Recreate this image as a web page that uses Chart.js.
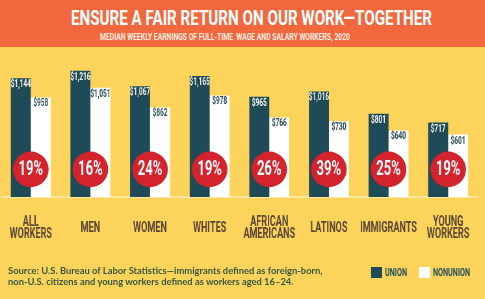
<!DOCTYPE html>
<html>
<head>
<meta charset="utf-8">
<script src="https://cdn.jsdelivr.net/npm/chart.js@4.4.1/dist/chart.umd.min.js"></script>
<style>
  html, body { margin: 0; padding: 0; }
  body { width: 485px; height: 299px; background: #FCD45C; position: relative; overflow: hidden; }
  .header { position: absolute; left: 0; top: 0; width: 485px; height: 47px; background: #F1683E; }
  .fit { position: absolute; white-space: nowrap; transform-origin: 0 0; font-family: Roboto, sans-serif; font-weight: bold; }
  #chart-wrap { position: absolute; left: 0; top: 50px; transform-origin: 0 0; }
  .source { position: absolute; left: 8px; top: 265px; color: #35573F; line-height: 11px;
           font: bold 9.4px Lato, "Noto Sans", sans-serif; }
  .box { position: absolute; width: 11px; height: 11px; top: 267px; }
</style>
</head>
<body>
<div class="header"></div>
<div class="fit" id="titulo" style="color:#fff;font-size:19.7px;line-height:20px">ENSURE A FAIR RETURN ON OUR WORK—TOGETHER</div>
<div class="fit" id="subtitulo" style="color:#FBEDE0;font-size:9px;line-height:9px">MEDIAN WEEKLY EARNINGS OF FULL-TIME&nbsp; WAGE AND SALARY WORKERS, 2020</div>
<div id="chart-wrap"><canvas id="grafico-salarios"></canvas></div>
<div class="source">Source: U.S. Bureau of Labor Statistics—immigrants defined as foreign-born,<br>non-U.S. citizens and young workers defined as workers aged 16–24.</div>
<div class="box" id="box-union" style="left:371px"></div>
<div class="box" id="box-nonunion" style="left:419px"></div>
<div class="fit" id="leg-union" style="color:#1F4B57;font-size:10px;line-height:10px"></div>
<div class="fit" id="leg-nonunion" style="color:#1F4B57;font-size:10px;line-height:10px"></div>
<script>
// Dados
const categorias = [['ALL', 'WORKERS'], 'MEN', 'WOMEN', 'WHITES', ['AFRICAN', 'AMERICANS'], 'LATINOS', 'IMMIGRANTS', ['YOUNG', 'WORKERS']];
const sindicalizados = [1144, 1216, 1067, 1165, 965, 1016, 801, 717];
const naoSindicalizados = [958, 1051, 862, 978, 766, 730, 640, 601];
const vantagem = [19, 16, 24, 19, 26, 39, 25, 19];

const corUnion = '#1E4B57';
const corNonunion = '#FFFFFF';
const fonte = 'Roboto, sans-serif';

// Fator de condensação horizontal (sem fonte condensada instalada)
const ESCALA = 0.65;
const LARGURA = 485 / ESCALA;
const ALTURA = 223;
const canvas = document.getElementById('grafico-salarios');
canvas.width = LARGURA;
canvas.height = ALTURA;
document.getElementById('chart-wrap').style.transform = 'scaleX(' + ESCALA + ')';

// Ajusta textos HTML para a largura desejada
function encaixar(id, x, y, largura) {
    const el = document.getElementById(id);
    const w = el.getBoundingClientRect().width;
    el.style.left = x + 'px';
    el.style.top = y + 'px';
    el.style.transform = 'scaleX(' + (largura / w) + ')';
}

// Rótulos de valor no topo das barras
const rotulosValor = {
    id: 'rotulosValor',
    afterDatasetsDraw(chart) {
        const ctx = chart.ctx;
        ctx.save();
        ctx.font = 'bold 10px ' + fonte;
        ctx.textAlign = 'center';
        ctx.textBaseline = 'middle';
        chart.data.datasets.forEach((ds, i) => {
            const meta = chart.getDatasetMeta(i);
            meta.data.forEach((bar, j) => {
                ctx.fillStyle = i === 0 ? '#F4F1EA' : '#2E4E5A';
                const v = '$' + ds.data[j].toLocaleString('en-US');
                ctx.fillText(v, bar.x, bar.y + 6.5);
            });
        });
        ctx.restore();
    }
};

// Círculos vermelhos com a porcentagem
const circulos = {
    id: 'circulos',
    afterDatasetsDraw(chart) {
        const ctx = chart.ctx;
        const xScale = chart.scales.x;
        const base = chart.chartArea.bottom;
        ctx.save();
        vantagem.forEach((p, i) => {
            const cx = xScale.getPixelForValue(i);
            const cy = base - 27.5;
            ctx.beginPath();
            ctx.ellipse(cx, cy, 17.8 / ESCALA, 17.8, 0, 0, Math.PI * 2);
            ctx.fillStyle = '#D3232C';
            ctx.fill();
            ctx.fillStyle = '#FFFFFF';
            ctx.font = 'bold 20px ' + fonte;
            ctx.textAlign = 'center';
            ctx.textBaseline = 'middle';
            ctx.fillText(p + '%', cx, cy + 1);
        });
        ctx.restore();
    }
};

const grafico = new Chart(canvas, {
    type: 'bar',
    data: {
        labels: categorias,
        datasets: [
            { label: 'UNION', data: sindicalizados, backgroundColor: corUnion },
            { label: 'NONUNION', data: naoSindicalizados, backgroundColor: corNonunion }
        ]
    },
    options: {
        responsive: false,
        animation: false,
        datasets: { bar: { categoryPercentage: 0.67, barPercentage: 1.0 } },
        layout: { padding: { left: 1.5, right: 10.7, top: 12, bottom: 0 } },
        scales: {
            x: {
                grid: { display: false, drawTicks: false },
                border: { display: true, color: '#FBE6A2', width: 2 },
                ticks: {
                    color: '#5A4636',
                    padding: 26,
                    crossAlign: 'center',
                    maxRotation: 0,
                    autoSkip: false,
                    font: { family: fonte, size: 14, weight: 'bold', lineHeight: 0.86 }
                },
                // sem margem lateral extra por causa dos rótulos
                afterFit(scale) {
                    scale.paddingLeft = 0;
                    scale.paddingRight = 0;
                }
            },
            y: { display: false, min: 0, max: 1300 }
        },
        plugins: {
            legend: { display: false },
            tooltip: { enabled: false }
        }
    },
    plugins: [rotulosValor, circulos]
});

// Legenda a partir dos datasets
document.getElementById('box-union').style.background = grafico.data.datasets[0].backgroundColor;
document.getElementById('box-nonunion').style.background = grafico.data.datasets[1].backgroundColor;
document.getElementById('leg-union').textContent = grafico.data.datasets[0].label;
document.getElementById('leg-nonunion').textContent = grafico.data.datasets[1].label;

encaixar('titulo', 71, 9, 361);
encaixar('subtitulo', 100, 32.5, 250);
encaixar('leg-union', 385, 268, 22);
encaixar('leg-nonunion', 433, 268, 37);
</script>
</body>
</html>
